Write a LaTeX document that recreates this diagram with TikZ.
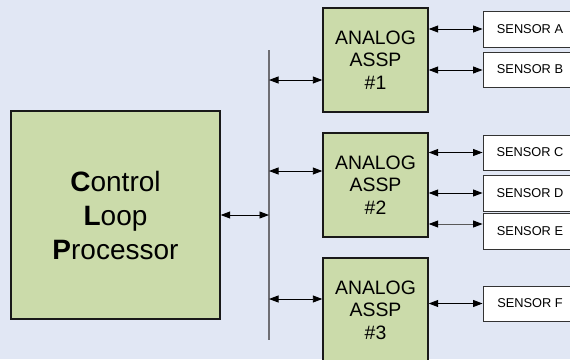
\documentclass[tikz,border=0pt]{standalone}
\usepackage{fontspec}
\setmainfont{Liberation Sans}
\usetikzlibrary{arrows.meta}
\definecolor{bgc}{RGB}{225,231,244}
\definecolor{gfill}{RGB}{203,219,170}
\definecolor{busc}{RGB}{110,110,115}
\begin{document}
\begin{tikzpicture}[x=1pt,y=-1pt,
  greenbox/.style={draw=black!90, line width=1.4pt, fill=gfill, inner sep=0pt, align=center},
  sensbox/.style={draw=black!80, line width=0.9pt, fill=white, inner sep=0pt, minimum width=94pt, align=center, font=\fontsize{12.8}{14}\selectfont},
  biarrow/.style={line width=0.9pt, {Triangle[length=9.5pt,width=7pt,color=black]}-{Triangle[length=9.5pt,width=7pt,color=black]}}
  ]
\useasboundingbox (0,0) rectangle (570,359);
\clip (0,0) rectangle (570,359);
\fill[bgc] (0,0) rectangle (570,359);

% control loop processor
\node[greenbox, minimum width=209pt, minimum height=208pt, font=\fontsize{28}{34}\selectfont] (clp) at (115.5,215)
  {\textbf{C}ontrol\\\textbf{L}oop\\\textbf{P}rocessor};

% ASSPs
\node[greenbox, minimum width=105pt, minimum height=104pt, font=\fontsize{19.4}{22.5}\selectfont] (a1) at (375.5,60) {ANALOG\\ASSP\\\#1};
\node[greenbox, minimum width=105pt, minimum height=104pt, font=\fontsize{19.4}{22.5}\selectfont] (a2) at (375.5,185) {ANALOG\\ASSP\\\#2};
\node[greenbox, minimum width=105pt, minimum height=104pt, font=\fontsize{19.4}{22.5}\selectfont] (a3) at (375.5,310) {ANALOG\\ASSP\\\#3};

% sensors
\node[sensbox, minimum height=36pt] (sA) at (530,29) {SENSOR A};
\node[sensbox, minimum height=35pt] (sB) at (530,69.5) {SENSOR B};
\node[sensbox, minimum height=35pt] (sC) at (530,152.5) {SENSOR C};
\node[sensbox, minimum height=36pt] (sD) at (530,193) {SENSOR D};
\node[sensbox, minimum height=36pt] (sE) at (530,231) {SENSOR E};
\node[sensbox, minimum height=35pt] (sF) at (530,303.5) {SENSOR F};

% bus
\coordinate (bt) at (269,50);
\coordinate (bb) at (269,340);
\draw[busc, line width=1.5pt] (bt) -- (bb);

% arrows
\draw[biarrow] (clp.east) -- (clp.east -| bt);
\draw[biarrow] (bt |- 0,80) -- (a1.west |- 0,80);
\draw[biarrow] (bt |- 0,171) -- (a2.west |- 0,171);
\draw[biarrow] (bt |- 0,299) -- (a3.west |- 0,299);

\draw[biarrow] (a1.east |- sA) -- (sA.west);
\draw[biarrow] (a1.east |- 0,70) -- (sB.west |- 0,70);
\draw[biarrow] (a2.east |- sC) -- (sC.west);
\draw[biarrow] (a2.east |- sD) -- (sD.west);
\draw[biarrow, draw=black!65] (a2.east |- 0,224) -- (sE.west |- 0,224);
\draw[biarrow] (a3.east |- sF) -- (sF.west);
\end{tikzpicture}
\end{document}
